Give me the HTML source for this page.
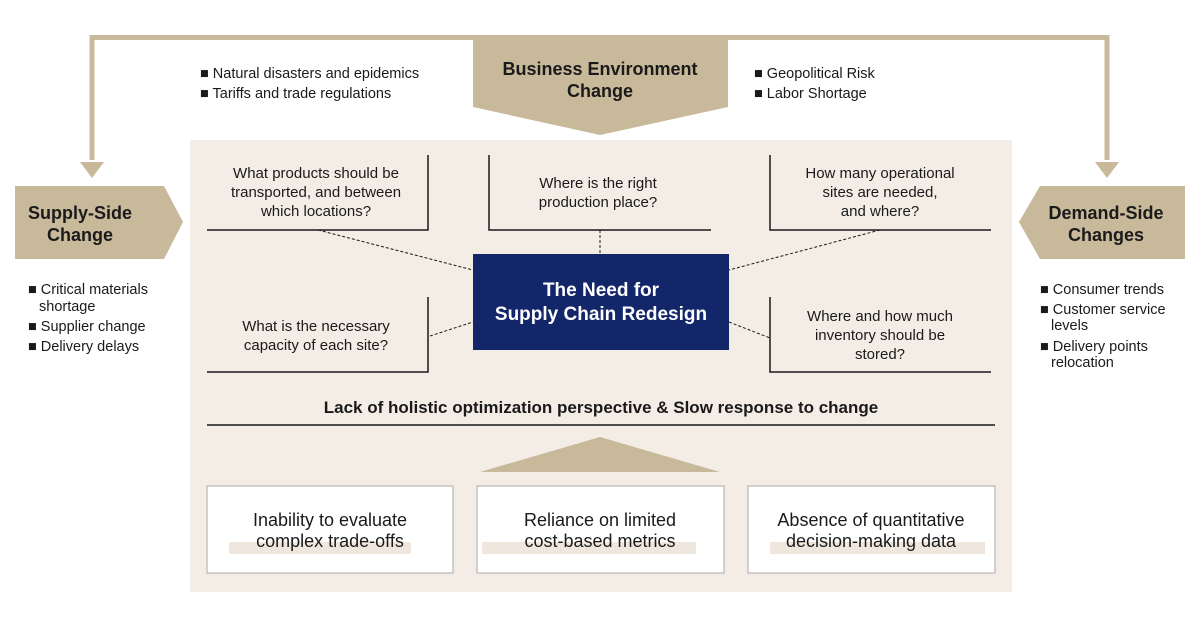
<!DOCTYPE html>
<html><head><meta charset="utf-8"><style>
html,body{margin:0;padding:0;background:#fff}
svg{display:block}
text{font-family:"Liberation Sans",sans-serif;fill:#1a1a1a}
.q{font-size:15px}
.b{font-size:14.5px}
.h{font-weight:bold}
</style></head><body>
<svg width="1200" height="625" viewBox="0 0 1200 625">
<rect x="190" y="140" width="822" height="452" fill="#f3ede6"/>
<!-- connector frame -->
<path d="M92 160 V37.5 H1107 V160" fill="none" stroke="#c9b99b" stroke-width="5"/>
<polygon points="80,162 104,162 92,178" fill="#c9b99b"/>
<polygon points="1095,162 1119,162 1107,178" fill="#c9b99b"/>
<!-- business env -->
<polygon points="473,35 728,35 728,107 600,135 473,107" fill="#c9b99b"/>
<text x="600" y="75" text-anchor="middle" class="h" font-size="18">Business Environment</text>
<text x="600" y="97" text-anchor="middle" class="h" font-size="18">Change</text>
<text x="200" y="78" class="b">■ Natural disasters and epidemics</text>
<text x="200" y="98" class="b">■ Tariffs and trade regulations</text>
<text x="754" y="78" class="b">■ Geopolitical Risk</text>
<text x="754" y="98" class="b">■ Labor Shortage</text>
<!-- supply -->
<polygon points="15,186 164,186 183,222 164,259 15,259" fill="#c9b99b"/>
<text x="80" y="219" text-anchor="middle" class="h" font-size="18">Supply-Side</text>
<text x="80" y="241" text-anchor="middle" class="h" font-size="18">Change</text>
<text x="28" y="294" class="b">■ Critical materials</text>
<text x="39" y="311" class="b">shortage</text>
<text x="28" y="331" class="b">■ Supplier change</text>
<text x="28" y="351" class="b">■ Delivery delays</text>
<!-- demand -->
<polygon points="1019,222 1040,186 1185,186 1185,259 1040,259" fill="#c9b99b"/>
<text x="1106" y="219" text-anchor="middle" class="h" font-size="18">Demand-Side</text>
<text x="1106" y="241" text-anchor="middle" class="h" font-size="18">Changes</text>
<text x="1040" y="294" class="b">■ Consumer trends</text>
<text x="1040" y="314" class="b">■ Customer service</text>
<text x="1051" y="330" class="b">levels</text>
<text x="1040" y="351" class="b">■ Delivery points</text>
<text x="1051" y="367" class="b">relocation</text>
<!-- question boxes -->
<g stroke="#1a1a1a" stroke-width="1.5" fill="none">
<path d="M428 155 V230 H207"/>
<path d="M489 155 V230 H711"/>
<path d="M770 155 V230 H991"/>
<path d="M428 297 V372 H207"/>
<path d="M770 297 V372 H991"/>
<path d="M207 425 H995"/>
</g>
<g stroke="#1a1a1a" stroke-width="1" stroke-dasharray="3,2" fill="none">
<line x1="318" y1="230" x2="473" y2="270"/>
<line x1="600" y1="230" x2="600" y2="254"/>
<line x1="880" y1="230" x2="729" y2="270"/>
<line x1="430" y1="336" x2="473" y2="322"/>
<line x1="729" y1="322" x2="770" y2="338"/>
</g>
<g class="q" text-anchor="middle">
<text x="316" y="178">What products should be</text>
<text x="316" y="197">transported, and between</text>
<text x="316" y="216">which locations?</text>
<text x="598" y="188">Where is the right</text>
<text x="598" y="207">production place?</text>
<text x="880" y="178">How many operational</text>
<text x="880" y="197">sites are needed,</text>
<text x="880" y="216">and where?</text>
<text x="316" y="331">What is the necessary</text>
<text x="316" y="350">capacity of each site?</text>
<text x="880" y="321">Where and how much</text>
<text x="880" y="340">inventory should be</text>
<text x="880" y="359">stored?</text>
</g>
<rect x="473" y="254" width="256" height="96" fill="#13266a"/>
<text x="601" y="296" text-anchor="middle" class="h" font-size="19" style="fill:#fff">The Need for</text>
<text x="601" y="320" text-anchor="middle" class="h" font-size="19" style="fill:#fff">Supply Chain Redesign</text>
<text x="601" y="413" text-anchor="middle" class="h" font-size="17">Lack of holistic optimization perspective &amp; Slow response to change</text>
<polygon points="480,472 600,437 720,472" fill="#c9b99b"/>
<g fill="#fff" stroke="#a9a9a9" stroke-width="1">
<rect x="207" y="486" width="246" height="87"/>
<rect x="477" y="486" width="247" height="87"/>
<rect x="748" y="486" width="247" height="87"/>
</g>
<g fill="#efe7dd">
<rect x="229" y="542" width="182" height="12"/>
<rect x="482" y="542" width="214" height="12"/>
<rect x="770" y="542" width="215" height="12"/>
</g>
<g font-size="18" text-anchor="middle">
<text x="330" y="526">Inability to evaluate</text>
<text x="330" y="547">complex trade-offs</text>
<text x="600" y="526">Reliance on limited</text>
<text x="600" y="547">cost-based metrics</text>
<text x="871" y="526">Absence of quantitative</text>
<text x="871" y="547">decision-making data</text>
</g>
</svg>
</body></html>
